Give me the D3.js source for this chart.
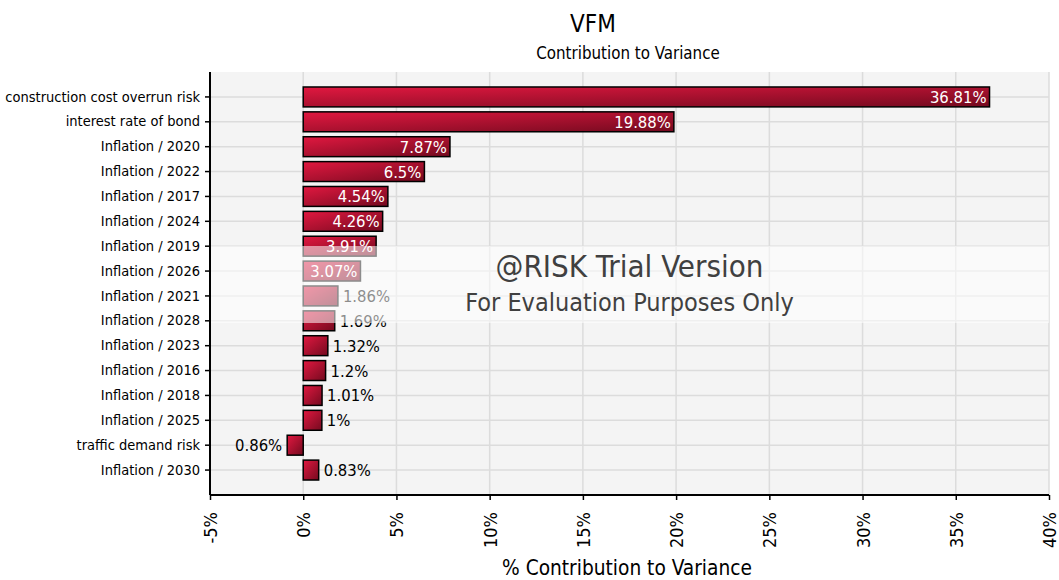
<!DOCTYPE html>
<html>
<head>
<meta charset="utf-8">
<script src="https://cdn.jsdelivr.net/npm/d3@7"></script>
<style>
  body { margin: 0; background: #fff; }
  svg { font-family: "DejaVu Sans Condensed", "DejaVu Sans", sans-serif; }
</style>
</head>
<body>
<svg width="1059" height="580"></svg>
<script>
var categories = [
  "construction cost overrun risk", "interest rate of bond", "Inflation / 2020",
  "Inflation / 2022", "Inflation / 2017", "Inflation / 2024", "Inflation / 2019",
  "Inflation / 2026", "Inflation / 2021", "Inflation / 2028", "Inflation / 2023",
  "Inflation / 2016", "Inflation / 2018", "Inflation / 2025", "traffic demand risk",
  "Inflation / 2030"
];
var values = [36.81, 19.88, 7.87, 6.5, 4.54, 4.26, 3.91, 3.07, 1.86, 1.69, 1.32, 1.2, 1.01, 1, -0.86, 0.83];
var xTicks = [-5, 0, 5, 10, 15, 20, 25, 30, 35, 40];

var margin = { top: 72, right: 10, bottom: 85, left: 210 };
var width = 1059 - margin.left - margin.right;
var height = 580 - margin.top - margin.bottom;
var font = "'DejaVu Sans Condensed', 'DejaVu Sans', sans-serif";

var svg = d3.select("svg");

var defs = svg.append("defs");
var grad = defs.append("linearGradient")
  .attr("id", "barGrad")
  .attr("x1", 0).attr("y1", 0).attr("x2", 1).attr("y2", 1);
grad.append("stop").attr("offset", "0%").attr("stop-color", "#e11840");
grad.append("stop").attr("offset", "100%").attr("stop-color", "#740a1f");

var x = d3.scaleLinear().domain([-5, 40]).range([0, width]);
var y = d3.scaleBand().domain(categories)
  .range([12.5, height - 12.5]).paddingInner(0.2).paddingOuter(0.1);

var g = svg.append("g")
  .attr("transform", "translate(" + margin.left + "," + margin.top + ")");

g.append("rect")
  .attr("width", width).attr("height", height)
  .attr("fill", "#f4f4f4");

// grid
g.selectAll(".vgrid").data(xTicks).enter().append("line")
  .attr("x1", function (d) { return x(d); }).attr("x2", function (d) { return x(d); })
  .attr("y1", 0).attr("y2", height)
  .attr("stroke", "#dcdcdc").attr("stroke-width", 1.5);
g.selectAll(".hgrid").data(categories).enter().append("line")
  .attr("x1", 0).attr("x2", width)
  .attr("y1", function (d) { return y(d) + y.bandwidth() / 2; })
  .attr("y2", function (d) { return y(d) + y.bandwidth() / 2; })
  .attr("stroke", "#dcdcdc").attr("stroke-width", 1.5);

var rows = categories.map(function (c, i) { return { name: c, value: values[i] }; });

g.selectAll(".bar").data(rows).enter().append("rect")
  .attr("x", function (d) { return x(Math.min(0, d.value)); })
  .attr("y", function (d) { return y(d.name); })
  .attr("width", function (d) { return Math.abs(x(d.value) - x(0)); })
  .attr("height", y.bandwidth())
  .attr("fill", "url(#barGrad)")
  .attr("stroke", "#000").attr("stroke-width", 1.5);

g.selectAll(".lbl").data(rows).enter().append("text")
  .attr("y", function (d) { return y(d.name) + y.bandwidth() / 2; })
  .attr("dy", "0.36em")
  .attr("font-size", 16.5)
  .each(function (d) {
    var t = d3.select(this);
    var w = Math.abs(x(d.value) - x(0));
    t.text(Math.abs(d.value) + "%");
    if (d.value < 0) {
      t.attr("x", x(d.value) - 5).attr("text-anchor", "end").attr("fill", "#000");
    } else if (w > 52) {
      t.attr("x", x(d.value) - 3).attr("text-anchor", "end").attr("fill", "#fff");
    } else {
      t.attr("x", x(d.value) + 5).attr("text-anchor", "start").attr("fill", "#000");
    }
  });

// watermark
g.append("rect")
  .attr("x", 0).attr("y", 246 - margin.top)
  .attr("width", width).attr("height", 77)
  .attr("fill", "#fff").attr("opacity", 0.55);
g.append("text")
  .attr("x", x(17.5)).attr("y", 277 - margin.top)
  .attr("text-anchor", "middle").attr("font-size", 31)
  .attr("fill", "#404040")
  .text("@RISK Trial Version");
g.append("text")
  .attr("x", x(17.5)).attr("y", 311 - margin.top)
  .attr("text-anchor", "middle").attr("font-size", 25)
  .attr("fill", "#404040")
  .text("For Evaluation Purposes Only");

// axes
var yAxis = g.append("g").call(d3.axisLeft(y).tickSize(5).tickPadding(5));
yAxis.attr("font-family", null);
yAxis.select(".domain").attr("d", "M0,0V" + height).attr("stroke-width", 2);
yAxis.selectAll(".tick line").attr("stroke-width", 1.5);
yAxis.selectAll("text").attr("font-size", 14.5).attr("fill", "#000")
  .style("font-family", font);

var xAxis = g.append("g")
  .attr("transform", "translate(0," + height + ")")
  .call(d3.axisBottom(x).tickValues(xTicks).tickSize(5)
    .tickFormat(function (d) { return d + "%"; }));
xAxis.attr("font-family", null);
xAxis.select(".domain").attr("d", "M0,0H" + width).attr("stroke-width", 2);
xAxis.selectAll(".tick line").attr("stroke-width", 1.5);
xAxis.selectAll("text")
  .attr("font-size", 18).attr("fill", "#000")
  .style("font-family", font)
  .attr("transform", "rotate(-90)")
  .attr("x", -17).attr("y", 0).attr("dy", "0.36em")
  .attr("text-anchor", "end");

// titles
svg.append("text").attr("x", 593).attr("y", 32)
  .attr("text-anchor", "middle").attr("font-size", 24).text("VFM");
svg.append("text").attr("x", 628).attr("y", 59)
  .attr("text-anchor", "middle").attr("font-size", 16.8).text("Contribution to Variance");
svg.append("text").attr("x", 627).attr("y", 575)
  .attr("text-anchor", "middle").attr("font-size", 20.7).text("% Contribution to Variance");
</script>
</body>
</html>
